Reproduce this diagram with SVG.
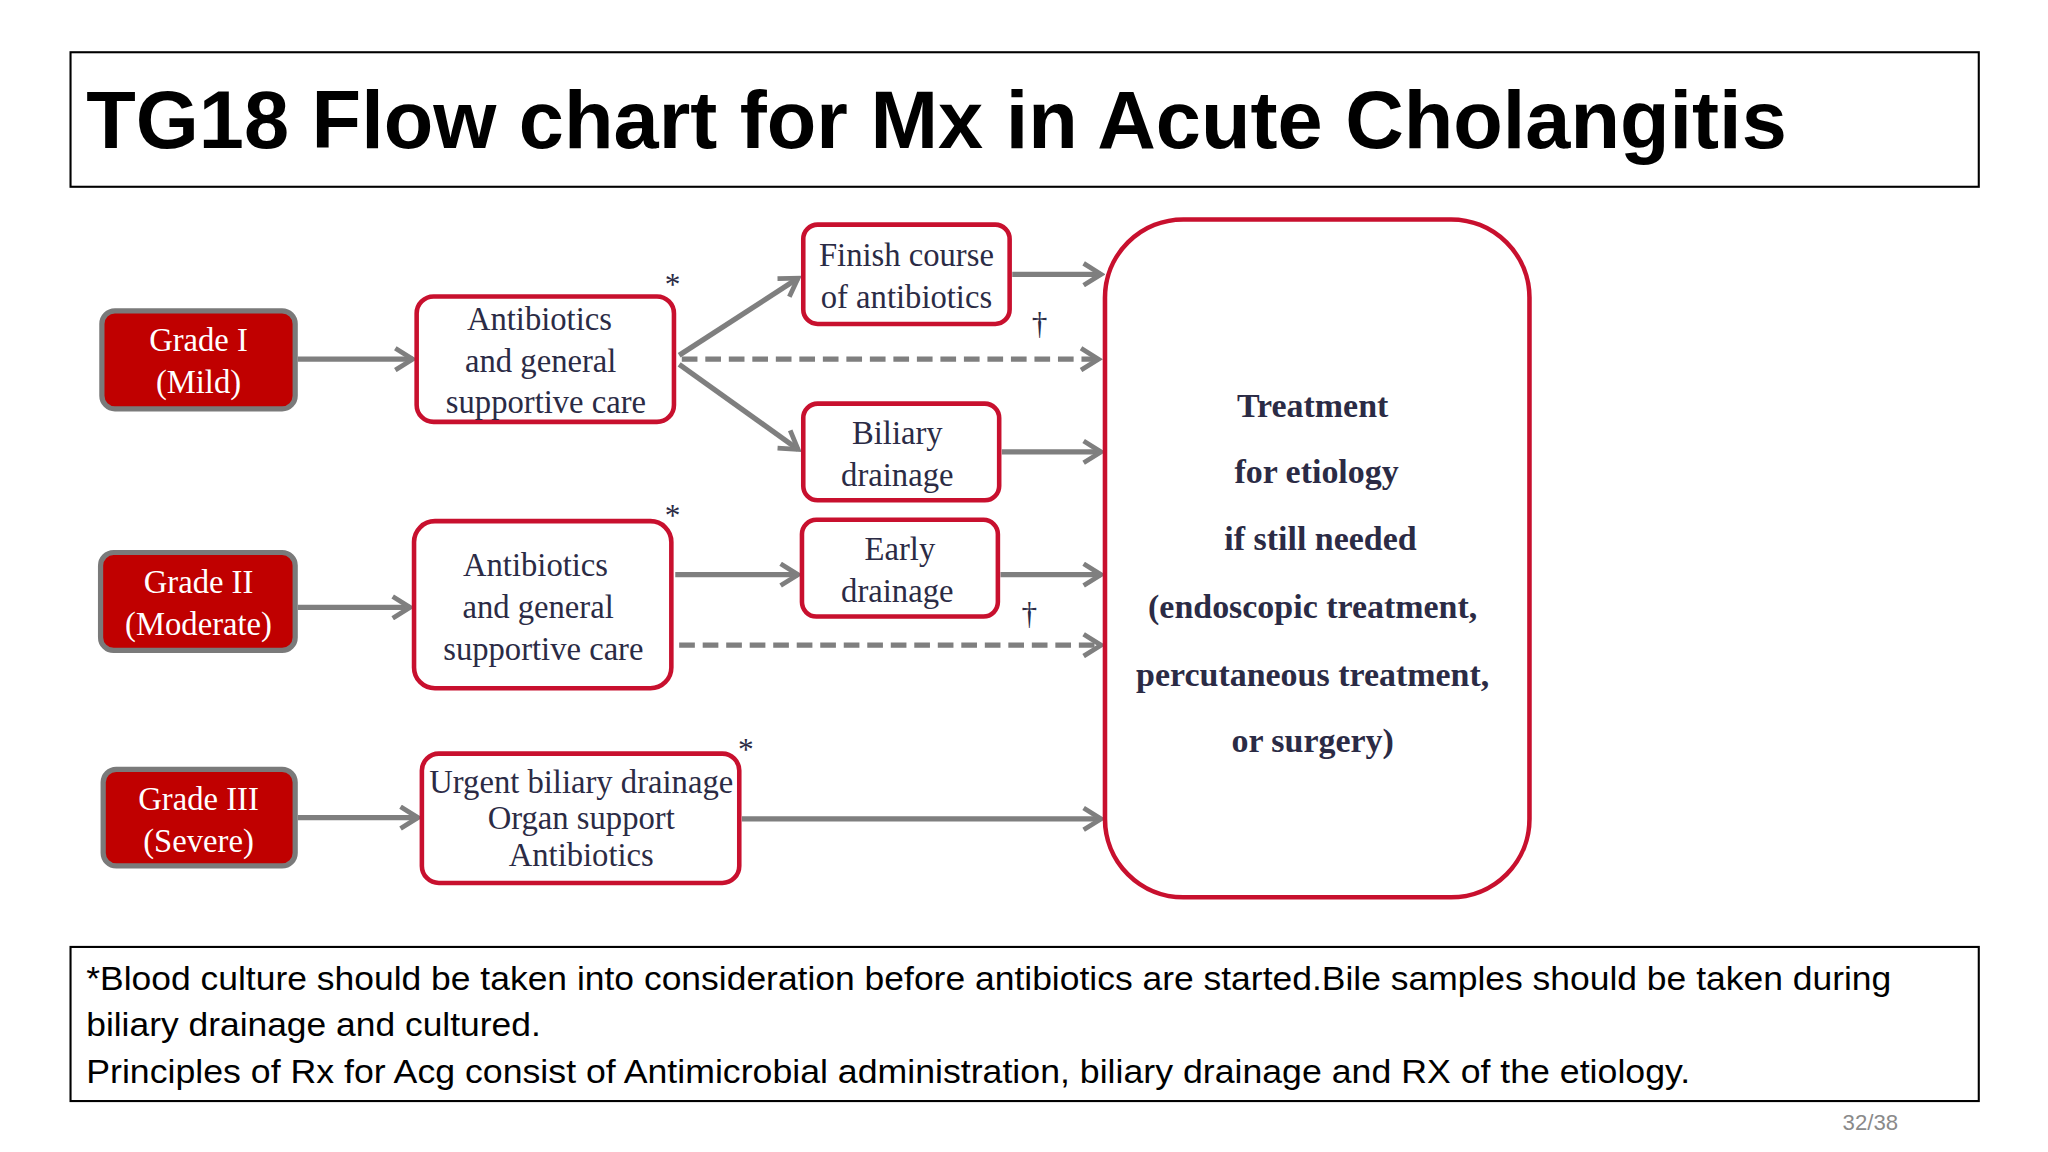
<svg xmlns="http://www.w3.org/2000/svg" width="2048" height="1152" viewBox="0 0 2048 1152">
<defs>
<style>
.frame{fill:none;stroke:#000;stroke-width:1.6}
.grade{fill:#c00000;stroke:#7a7a7a;stroke-width:4}
.gt{fill:#fff;font-family:"Liberation Serif",serif;font-size:25px;text-anchor:middle}
.box{fill:#fff;stroke:#c8102e;stroke-width:3.5}
.bt{fill:#2b2b45;font-family:"Liberation Serif",serif;font-size:25px;text-anchor:middle}
.big{fill:#2b2b45;font-family:"Liberation Serif",serif;font-size:26px;font-weight:bold;text-anchor:middle}
.ar{fill:none;stroke:#7f7f7f;stroke-width:4}
.da{fill:none;stroke:#7f7f7f;stroke-width:4;stroke-dasharray:12 6}
.note{fill:#000;font-family:"Liberation Sans",sans-serif;font-size:25px}
.sym{fill:#2b2b45;font-family:"Liberation Serif",serif;font-size:24px;text-anchor:middle}
</style>
<marker id="ah" viewBox="0 0 12 12" refX="10" refY="6" markerWidth="5" markerHeight="5" orient="auto" markerUnits="strokeWidth">
<polyline points="2,1 10,6 2,11" fill="none" stroke="#7f7f7f" stroke-width="2.2"/>
</marker>
</defs>
<rect width="2048" height="1152" fill="#fff"/>
<g transform="scale(1.30612)">
<g id="title"><rect class="frame" x="54" y="40" width="1461" height="103"/>
<text x="66" y="113" font-family="Liberation Sans,sans-serif" font-weight="bold" font-size="62" textLength="1302" lengthAdjust="spacingAndGlyphs">TG18 Flow chart for Mx in Acute Cholangitis</text></g>
<g id="connectors">
<line class="ar" x1="228" y1="275" x2="316" y2="275" marker-end="url(#ah)"/>
<line class="ar" x1="228" y1="465" x2="314" y2="465" marker-end="url(#ah)"/>
<line class="ar" x1="228" y1="626" x2="320" y2="626" marker-end="url(#ah)"/>
<line class="ar" x1="520" y1="272" x2="611" y2="213" marker-end="url(#ah)"/>
<line class="ar" x1="520" y1="279" x2="611" y2="344" marker-end="url(#ah)"/>
<line class="da" x1="522" y1="275" x2="841" y2="275" marker-end="url(#ah)"/>
<line class="ar" x1="517" y1="440" x2="611" y2="440" marker-end="url(#ah)"/>
<line class="ar" x1="775" y1="210" x2="843" y2="210" marker-end="url(#ah)"/>
<line class="ar" x1="767" y1="346" x2="843" y2="346" marker-end="url(#ah)"/>
<line class="ar" x1="766" y1="440" x2="843" y2="440" marker-end="url(#ah)"/>
<line class="da" x1="520" y1="494" x2="843" y2="494" marker-end="url(#ah)"/>
<line class="ar" x1="568" y1="627" x2="843" y2="627" marker-end="url(#ah)"/>
</g>
<g id="grade1"><rect class="grade" x="78" y="238" width="148" height="75" rx="10"/><text class="gt" x="152" y="269">Grade I</text><text class="gt" x="152" y="301">(Mild)</text></g>
<g id="grade2"><rect class="grade" x="77" y="423" width="149" height="75" rx="10"/><text class="gt" x="152" y="454">Grade II</text><text class="gt" x="152" y="486">(Moderate)</text></g>
<g id="grade3"><rect class="grade" x="79" y="589" width="147" height="74" rx="10"/><text class="gt" x="152" y="620">Grade III</text><text class="gt" x="152" y="652">(Severe)</text></g>
<g id="abx1"><rect class="box" x="319" y="227" width="197" height="96" rx="13"/><text class="bt" x="413" y="253">Antibiotics</text><text class="bt" x="414" y="285">and general</text><text class="bt" x="418" y="316">supportive care</text><text class="sym" x="515" y="226">*</text></g>
<g id="abx2"><rect class="box" x="317" y="399" width="197" height="128" rx="16"/><text class="bt" x="410" y="441">Antibiotics</text><text class="bt" x="412" y="473">and general</text><text class="bt" x="416" y="505">supportive care</text><text class="sym" x="515" y="403">*</text></g>
<g id="urgent"><rect class="box" x="323" y="577" width="243" height="99" rx="13"/><text class="bt" x="445" y="607" font-size="21">Urgent biliary drainage</text><text class="bt" x="445" y="635" font-size="21">Organ support</text><text class="bt" x="445" y="663" font-size="21">Antibiotics</text><text class="sym" x="571" y="582">*</text></g>
<g id="finish"><rect class="box" x="615" y="172" width="158" height="76" rx="11"/><text class="bt" x="694" y="204">Finish course</text><text class="bt" x="694" y="236">of antibiotics</text><text class="sym" x="796" y="256">†</text></g>
<g id="biliary"><rect class="box" x="615" y="309" width="150" height="74" rx="11"/><text class="bt" x="687" y="340">Biliary</text><text class="bt" x="687" y="372">drainage</text></g>
<g id="early"><rect class="box" x="614" y="398" width="150" height="74" rx="11"/><text class="bt" x="689" y="429">Early</text><text class="bt" x="687" y="461">drainage</text><text class="sym" x="788" y="478">†</text></g>
<g id="treatment"><rect class="box" x="846" y="168" width="325" height="519" rx="60"/>
<text class="big" x="1005" y="319">Treatment</text><text class="big" x="1008" y="370">for etiology</text><text class="big" x="1011" y="421">if still needed</text><text class="big" x="1005" y="473">(endoscopic treatment,</text><text class="big" x="1005" y="525">percutaneous treatment,</text><text class="big" x="1005" y="576">or surgery)</text></g>
<g id="footnote"><rect class="frame" x="54" y="725" width="1461" height="118"/>
<text class="note" x="66" y="758" textLength="1382" lengthAdjust="spacingAndGlyphs">*Blood culture should be taken into consideration before antibiotics are started.Bile samples should be taken during</text>
<text class="note" x="66" y="793" textLength="348" lengthAdjust="spacingAndGlyphs">biliary drainage and cultured.</text>
<text class="note" x="66" y="829" textLength="1228" lengthAdjust="spacingAndGlyphs">Principles of Rx for Acg consist of Antimicrobial administration, biliary drainage and RX of the etiology.</text></g>
<text x="1432" y="865" font-family="Liberation Sans,sans-serif" font-size="17" fill="#8a8a8a" text-anchor="middle">32/38</text>
</g>
</svg>
